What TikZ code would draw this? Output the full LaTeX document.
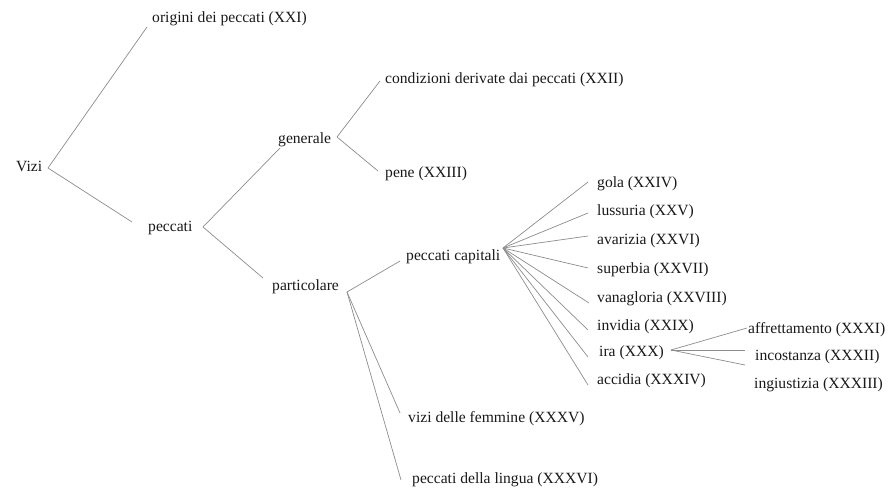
\documentclass[tikz,border=0pt]{standalone}
\usepackage{fontspec}
\setmainfont{Liberation Serif}
\begin{document}
\begin{tikzpicture}[x=1pt,y=-1pt,
  lbl/.style={anchor=base west,inner sep=0pt,font=\fontsize{15.6}{17}\selectfont,text=black!90},
  conn/.style={draw=black!45,line width=0.7pt}]
\useasboundingbox (0,0) rectangle (892,488);
% nodes
\node[lbl] (vizi) at (16,171) {Vizi};
\node[lbl] (origini) at (152,22) {origini dei peccati (XXI)};
\node[lbl] (peccati) at (148,231) {peccati};
\node[lbl] (generale) at (278,143) {generale};
\node[lbl] (condizioni) at (385,83) {condizioni derivate dai peccati (XXII)};
\node[lbl] (pene) at (385,177) {pene (XXIII)};
\node[lbl] (particolare) at (272,290) {particolare};
\node[lbl] (capitali) at (406,260) {peccati capitali};
\node[lbl] (gola) at (597,187) {gola (XXIV)};
\node[lbl] (lussuria) at (597,215) {lussuria (XXV)};
\node[lbl] (avarizia) at (597,244) {avarizia (XXVI)};
\node[lbl] (superbia) at (597,273) {superbia (XXVII)};
\node[lbl] (vanagloria) at (597,302) {vanagloria (XXVIII)};
\node[lbl] (invidia) at (597,330) {invidia (XXIX)};
\node[lbl] (ira) at (599,356) {ira (XXX)};
\node[lbl] (accidia) at (597,384) {accidia (XXXIV)};
\node[lbl] (affrettamento) at (748,333) {affrettamento (XXXI)};
\node[lbl] (incostanza) at (755,360) {incostanza (XXXII)};
\node[lbl] (ingiustizia) at (754,388) {ingiustizia (XXXIII)};
\node[lbl] (femmine) at (408,422) {vizi delle femmine (XXXV)};
\node[lbl] (lingua) at (412,483) {peccati della lingua (XXXVI)};
% joints and line ends
\coordinate (vizi-j) at (48,168);
\coordinate (origini-e) at (147,27);
\coordinate (peccati-e) at (132,222);
\coordinate (peccati-j) at (203,227);
\coordinate (generale-e) at (280,148);
\coordinate (particolare-e) at (263,278);
\coordinate (generale-j) at (337,137);
\coordinate (condizioni-e) at (380,81);
\coordinate (pene-e) at (378,171);
\coordinate (particolare-j) at (347,292);
\coordinate (capitali-e) at (400,261);
\coordinate (femmine-e) at (400,413);
\coordinate (lingua-e) at (401,480);
\coordinate (capitali-j) at (503,248);
\coordinate (gola-e) at (588,182);
\coordinate (lussuria-e) at (588,213);
\coordinate (avarizia-e) at (588,236);
\coordinate (superbia-e) at (588,268);
\coordinate (vanagloria-e) at (589,303);
\coordinate (invidia-e) at (588,330);
\coordinate (ira-e) at (588,357);
\coordinate (accidia-e) at (588,385);
\coordinate (ira-j) at (671,350);
\coordinate (affrettamento-e) at (747,328);
\coordinate (incostanza-e) at (745,350);
\coordinate (ingiustizia-e) at (745,365);
% connectors
\draw[conn] (origini-e) -- (vizi-j) -- (peccati-e);
\draw[conn] (generale-e) -- (peccati-j) -- (particolare-e);
\draw[conn] (condizioni-e) -- (generale-j) -- (pene-e);
\draw[conn] (particolare-j) -- (capitali-e);
\draw[conn] (particolare-j) -- (femmine-e);
\draw[conn] (particolare-j) -- (lingua-e);
\foreach \n in {gola,lussuria,avarizia,superbia,vanagloria,invidia,ira,accidia}
  \draw[conn] (capitali-j) -- (\n-e);
\foreach \n in {affrettamento,incostanza,ingiustizia}
  \draw[conn] (ira-j) -- (\n-e);
\end{tikzpicture}
\end{document}
